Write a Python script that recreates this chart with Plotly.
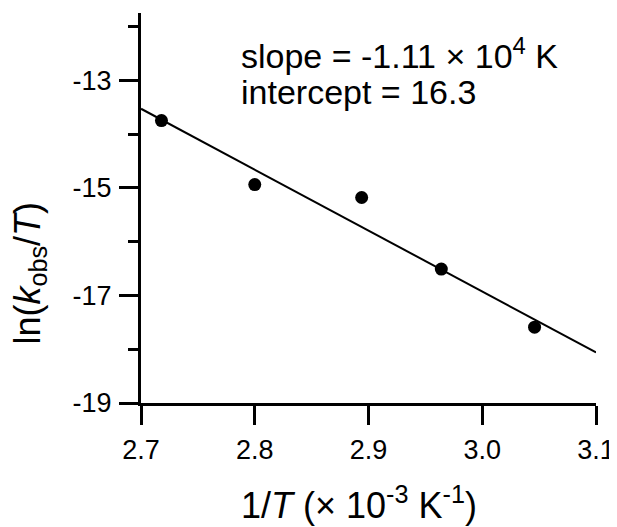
import plotly.graph_objects as go

# data
inv_T = [2.718, 2.800, 2.894, 2.964, 3.046]
ln_k_over_T = [-13.75, -14.94, -15.18, -16.51, -17.59]
fit_x = [2.7, 3.1]
fit_y = [-13.53, -18.06]

x_tickvals = [2.7, 2.8, 2.9, 3.0, 3.1]
x_ticktext = ["2.7", "2.8", "2.9", "3.0", "3.1"]
y_tickvals = [-19, -17, -15, -13]
y_ticktext = ["-19", "-17", "-15", "-13"]

FONT = "Liberation Sans, Arial, sans-serif"

fig = go.Figure()
fig.add_trace(go.Scatter(x=fit_x, y=fit_y, mode="lines",
                         line=dict(color="black", width=2), showlegend=False,
                         cliponaxis=False))
fig.add_trace(go.Scatter(x=inv_T, y=ln_k_over_T, mode="markers",
                         marker=dict(color="black", size=13), showlegend=False,
                         cliponaxis=False))

fig.update_xaxes(range=[2.7, 3.1], tickvals=x_tickvals, ticktext=x_ticktext,
                 showline=True, linecolor="black", linewidth=3,
                 ticks="outside", ticklen=19, tickwidth=3, tickcolor="black",
                 showgrid=False, zeroline=False,
                 tickfont=dict(family=FONT, size=27, color="black"),
                 ticklabelstandoff=2)
fig.update_yaxes(range=[-19, -11.75], tickvals=y_tickvals, ticktext=y_ticktext,
                 showline=True, linecolor="black", linewidth=3,
                 ticks="outside", ticklen=19, tickwidth=3, tickcolor="black",
                 minor=dict(tickmode="linear", tick0=-19, dtick=1, ticks="outside",
                            ticklen=10, tickwidth=3, tickcolor="black", showgrid=False),
                 showgrid=False, zeroline=False,
                 tickfont=dict(family=FONT, size=27, color="black"),
                 ticklabelstandoff=2)

ann_font = dict(family=FONT, size=34, color="black")
fig.update_layout(
    width=617, height=527,
    margin=dict(l=133, r=29, t=5, b=132),
    plot_bgcolor="white", paper_bgcolor="white",
    annotations=[
        dict(text="1/<i>T</i> (× 10<sup>-3</sup> K<sup>-1</sup>)", xref="paper", yref="paper",
             x=0.479, y=-0.256, xanchor="center", yanchor="middle",
             showarrow=False, font=dict(family=FONT, size=36, color="black")),
        dict(text="ln(<i>k</i><sub>obs</sub>/<i>T</i>)", xref="paper", yref="paper",
             x=-0.245, y=0.3333, xanchor="center", yanchor="middle", textangle=-90,
             showarrow=False, font=dict(family=FONT, size=36, color="black")),
        dict(text="slope = -1.11 × 10<sup>4</sup> K", xref="paper", yref="paper",
             x=0.215, y=0.897, xanchor="left", yanchor="middle",
             showarrow=False, font=ann_font),
        dict(text="intercept = 16.3", xref="paper", yref="paper",
             x=0.215, y=0.797, xanchor="left", yanchor="middle",
             showarrow=False, font=ann_font),
    ],
)

fig.write_html("out.html")
